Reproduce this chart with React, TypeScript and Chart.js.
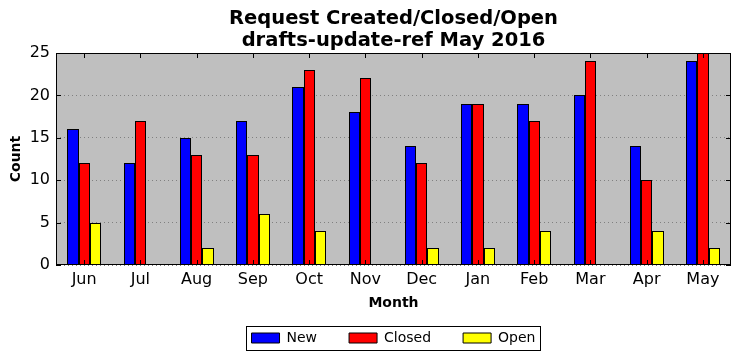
import React, { useEffect, useRef } from 'react';
import { Chart, registerables } from 'chart.js';

Chart.register(...registerables);

const months = ['Jun', 'Jul', 'Aug', 'Sep', 'Oct', 'Nov', 'Dec', 'Jan', 'Feb', 'Mar', 'Apr', 'May'];
const newValues = [16, 12, 15, 17, 21, 18, 14, 19, 19, 20, 14, 24];
const closedValues = [12, 17, 13, 13, 23, 22, 12, 19, 17, 24, 10, 25];
const openValues = [5, 0, 2, 6, 4, 0, 2, 2, 4, 0, 4, 2];
const titleLines = ['Request Created/Closed/Open', 'drafts-update-ref May 2016'];

const FONT = "'DejaVu Sans', 'Liberation Sans', sans-serif";

const snapPlugin = {
  id: 'snapBars',
  beforeDatasetsDraw(chart: any) {
    chart.data.datasets.forEach((_d: any, di: number) => {
      const meta = chart.getDatasetMeta(di);
      meta.data.forEach((el: any) => {
        const l = Math.round(el.x - el.width / 2);
        const r = Math.round(el.x + el.width / 2);
        el.x = (l + r) / 2;
        el.width = r - l;
        el.y = Math.round(el.y);
        el.base = Math.round(el.base);
      });
    });
  },
};

const framePlugin = {
  id: 'frame',
  beforeDraw(chart: any) {
    const { ctx, chartArea: a } = chart;
    ctx.save();
    ctx.fillStyle = '#bfbfbf';
    ctx.fillRect(a.left, a.top, a.right - a.left, a.bottom - a.top);
    ctx.restore();
  },
  afterDraw(chart: any) {
    const { ctx, chartArea: a } = chart;
    ctx.save();
    ctx.strokeStyle = '#000';
    ctx.lineWidth = 1;
    ctx.strokeRect(a.left + 0.5, a.top + 0.5, a.right - a.left - 1, a.bottom - a.top - 1);
    const tl = 5;
    const xs = chart.scales.x;
    ctx.beginPath();
    xs.ticks.forEach((_t: any, i: number) => {
      const px = Math.round(xs.getPixelForTick(i)) + 0.5;
      ctx.moveTo(px, a.top);
      ctx.lineTo(px, a.top + tl);
      ctx.moveTo(px, a.bottom);
      ctx.lineTo(px, a.bottom - tl);
    });
    const ys = chart.scales.y;
    ys.ticks.forEach((_t: any, i: number) => {
      const py = Math.round(ys.getPixelForTick(i)) + 0.5;
      ctx.moveTo(a.left, py);
      ctx.lineTo(a.left + tl, py);
      ctx.moveTo(a.right, py);
      ctx.lineTo(a.right - tl, py);
    });
    ctx.stroke();
    const lg = chart.legend;
    if (lg && lg.legendHitBoxes && lg.legendHitBoxes.length) {
      const hb = lg.legendHitBoxes;
      const last = hb[hb.length - 1];
      const x0 = hb[0].left - 6;
      const x1 = last.left + last.width + 4;
      const cy = hb[0].top + hb[0].height / 2;
      ctx.strokeRect(Math.round(x0) + 0.5, Math.round(cy - 12) + 0.5, Math.round(x1 - x0), 24);
    }
    ctx.restore();
  },
};

export default function App() {
  const ref = useRef<HTMLCanvasElement | null>(null);
  useEffect(() => {
    if (!ref.current) return;
    Chart.defaults.font.family = FONT;
    Chart.defaults.color = '#000';
    const chart = new Chart(ref.current, {
      type: 'bar',
      data: {
        labels: months,
        datasets: [
          { label: 'New', data: newValues, backgroundColor: '#0000ff', borderColor: '#000', borderWidth: 1, borderSkipped: false },
          { label: 'Closed', data: closedValues, backgroundColor: '#ff0000', borderColor: '#000', borderWidth: 1, borderSkipped: false },
          { label: 'Open', data: openValues, backgroundColor: '#ffff00', borderColor: '#000', borderWidth: 1, borderSkipped: false },
        ],
      },
      options: {
        responsive: false,
        animation: false,
        datasets: { bar: { categoryPercentage: 0.6, barPercentage: 1 } },
        layout: { padding: { top: 0, right: 10, bottom: 6, left: 0 } },
        plugins: {
          title: {
            display: true,
            fullSize: false,
            text: titleLines,
            color: '#000',
            font: { family: FONT, size: 19.5, weight: 'bold', lineHeight: 22 / 19.5 },
            padding: { top: 8, bottom: 1 },
          },
          legend: {
            position: 'bottom',
            fullSize: false,
            labels: {
              boxWidth: 28,
              boxHeight: 10,
              padding: 32,
              color: '#000',
              font: { family: FONT, size: 14 },
            },
          },
          tooltip: { enabled: false },
        },
        scales: {
          x: {
            afterFit: (s: any) => { s.height = 34; },
            grid: { display: false, drawTicks: false },
            border: { display: false },
            ticks: { color: '#000', font: { family: FONT, size: 16 }, padding: 5, maxRotation: 0 },
            title: {
              display: true,
              text: 'Month',
              color: '#000',
              font: { family: FONT, size: 14, weight: 'bold' },
              padding: { top: 0, bottom: -12.4 },
            },
          },
          y: {
            min: 0,
            max: 25,
            afterFit: (s: any) => { s.width = 56; },
            grid: { color: '#808080', drawTicks: false },
            border: { display: false, dash: [1, 3] },
            ticks: { stepSize: 5, color: '#000', font: { family: FONT, size: 16 }, padding: 6 },
            title: {
              display: true,
              text: 'Count',
              color: '#000',
              font: { family: FONT, size: 14, weight: 'bold' },
              padding: { top: 8, bottom: 0 },
            },
          },
        },
      },
      plugins: [snapPlugin, framePlugin],
    } as any);
    return () => chart.destroy();
  }, []);
  return (
    <div style={{ position: 'absolute', left: 0, top: 0, width: 741, height: 361 }}>
      <canvas ref={ref} width={741} height={361} style={{ display: 'block' }} />
    </div>
  );
}
